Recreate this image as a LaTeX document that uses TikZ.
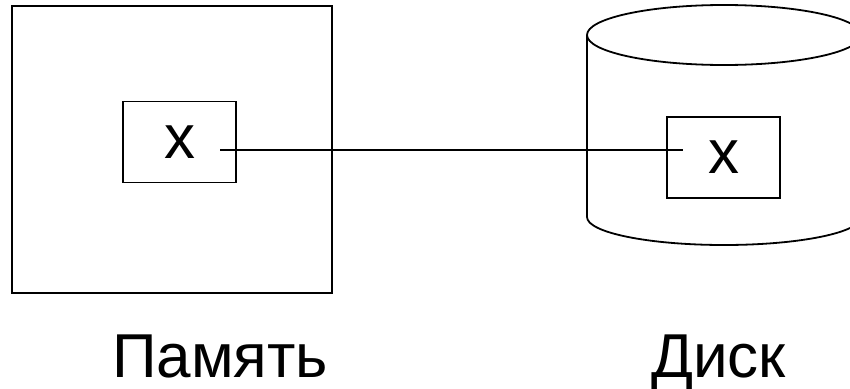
\documentclass[tikz,border=0pt]{standalone}
\usepackage{fontspec}
\setmainfont{Liberation Sans}
\tikzset{
  ln/.style={line width=1.8pt, draw=black},
  inbox/.style={ln, rectangle, minimum width=113pt, minimum height=81pt, inner sep=0pt, font=\fontsize{62}{62}\selectfont},
  lbl/.style={anchor=base west, inner sep=0pt, font=\fontsize{62}{62}\selectfont}
}
\begin{document}
\begin{tikzpicture}[x=1pt,y=-1pt]
\useasboundingbox (0,0) rectangle (850,388);
\clip (0,0) rectangle (850,388);
% memory square
\draw[ln] (12,6) rectangle (332,293);
% disk cylinder
\draw[ln] (587,35) -- (587,217) arc[start angle=180, end angle=0, x radius=137, y radius=28] -- (861,35);
\draw[ln] (724,35) ellipse[x radius=137, y radius=30];
% inner boxes
\node[inbox] (a) at (179.5,142) {\raisebox{-6pt}{x}};
\node[inbox] (b) at (723.5,157.5) {\raisebox{-7pt}{x}};
\coordinate (s) at ([xshift=40.5pt]a.center |- 0,150);
\coordinate (e) at ([xshift=-40.5pt]b.center |- 0,150);
\draw[ln] (s) -- (e);
% labels
\node[lbl] (mem) at (112,377) {Память};
\node[lbl] (disk) at (651,377) {Диск};
\end{tikzpicture}
\end{document}
